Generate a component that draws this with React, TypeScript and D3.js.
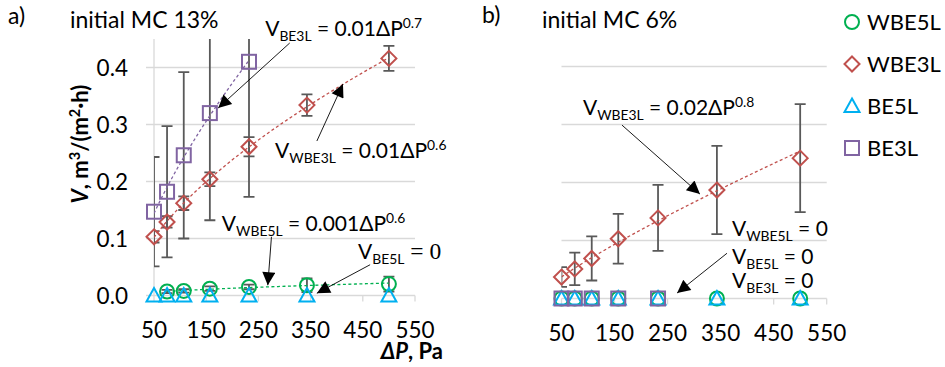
import React, { useEffect, useRef } from 'react';
import * as d3 from 'd3';

// pressure difference, Pa (same steps in both panels)
const pressure = [50, 75, 107, 157, 232, 343, 500];
const xTicks = [50, 150, 250, 350, 450, 550];
const yTicks = [0, 0.1, 0.2, 0.3, 0.4];

const seriesNames = ['WBE5L', 'WBE3L', 'BE5L', 'BE3L'];
const seriesColors = ['#00b050', '#c0504d', '#00b0f0', '#8064a2'];
const seriesShapes = ['circle', 'diamond', 'triangle', 'square'];

// a) initial MC 13%
const wbe5lA = [null, 0.007, 0.008, 0.012, 0.015, 0.018, 0.02];
const wbe5lErrA = [null, 0.003, 0.003, 0.004, 0.004, 0.012, 0.013];
const wbe3lA = [0.103, 0.129, 0.162, 0.204, 0.261, 0.334, 0.416];
const wbe3lErrA = [0.01, 0.01, 0.012, 0.012, 0.017, 0.019, 0.022];
const be5lA = [0, 0, 0, 0, 0, 0, 0];
const be3lA = [0.147, 0.182, 0.246, 0.32, 0.41, null, null];
const be3lErrA = [0.096, 0.115, 0.146, 0.188, 0.237, null, null];

// b) initial MC 6%
const wbe5lB = [0, 0, 0, 0, 0, 0, 0];
const wbe3lB = [0.037, 0.051, 0.069, 0.103, 0.139, 0.187, 0.242];
const wbe3lErrB = [0.017, 0.028, 0.038, 0.043, 0.057, 0.076, 0.093];
const be5lB = [0, 0, 0, 0, 0, 0, 0];
const be3lB = [0, 0, 0, 0, 0, null, null];

// callouts, in data units: text start, arrow start, arrow tip
const notesA = [
  { parts: [['V'], ['BE3L', 'sub'], [' = 0.01ΔP'], ['0.7', 'sup']], at: [263, 0.455], from: [310, 0.443], to: [173, 0.329] },
  { parts: [['V'], ['WBE3L', 'sub'], [' = 0.01ΔP'], ['0.6', 'sup']], at: [282, 0.241], from: [362, 0.271], to: [412, 0.371] },
  { parts: [['V'], ['WBE5L', 'sub'], [' = 0.001ΔP'], ['0.6', 'sup']], at: [180, 0.113], from: [275, 0.103], to: [268, 0.018] },
  { parts: [['V'], ['BE5L', 'sub'], [' = 0', 'serif']], at: [441, 0.064], from: [464, 0.054], to: [362, 0.004] },
];
const notesB = [
  { parts: [['V'], ['WBE3L', 'sub'], [' = 0.02ΔP'], ['0.8', 'sup']], at: [90.5, 0.316], from: [164, 0.299], to: [311, 0.18] },
  { parts: [['V'], ['WBE5L', 'sub'], [' = 0']], at: [371.5, 0.108] },
  { parts: [['V'], ['BE5L', 'sub'], [' = 0']], at: [371.5, 0.0595], from: [362, 0.078], to: [268, 0.0095] },
  { parts: [['V'], ['BE3L', 'sub'], [' = 0']], at: [371.5, 0.018] },
];

const FONT = 'Lato, "Open Sans", sans-serif';
const SERIF = '"Liberation Serif", "DejaVu Serif", serif';
const GRID = '#d9d9d9';

const panels = [
  {
    id: 'a', label: 'a)', title: 'initial MC 13%', xr: [154, 415], y0: 295.5, unit: 570, yLabels: true,
    labelPos: [8, 24], titlePos: [70, 28],
    series: [
      { values: wbe5lA, err: wbe5lErrA, trend: true },
      { values: wbe3lA, err: wbe3lErrA, trend: true },
      { values: be5lA },
      { values: be3lA, err: be3lErrA, trend: true },
    ],
    notes: notesA,
  },
  {
    id: 'b', label: 'b)', title: 'initial MC 6%', xr: [561.5, 826.7], y0: 298.5, unit: 580, yLabels: false,
    labelPos: [482, 23], titlePos: [542, 28],
    series: [
      { values: wbe5lB },
      { values: wbe3lB, err: wbe3lErrB, trend: true },
      { values: be5lB },
      { values: be3lB },
    ],
    notes: notesB,
  },
];

function powerFit(xs: number[], ys: (number | null)[]) {
  const pts = xs.map((x, i) => [x, ys[i]] as [number, number | null]).filter(p => p[1] != null && (p[1] as number) > 0) as [number, number][];
  const lx = pts.map(p => Math.log(p[0]));
  const ly = pts.map(p => Math.log(p[1]));
  const mx = d3.mean(lx) as number;
  const my = d3.mean(ly) as number;
  const b = d3.sum(lx, (v, i) => (v - mx) * (ly[i] - my)) / d3.sum(lx, v => (v - mx) ** 2);
  const a = Math.exp(my - b * mx);
  return { a, b, x0: pts[0][0], x1: pts[pts.length - 1][0] };
}

function drawMarker(g, shape: string, x: number, y: number, color: string) {
  const common = (s) => s.attr('fill', 'none').attr('stroke', color).attr('stroke-width', 2);
  if (shape === 'circle') common(g.append('circle').attr('cx', x).attr('cy', y).attr('r', 7));
  if (shape === 'square') common(g.append('rect').attr('x', x - 7).attr('y', y - 7).attr('width', 14).attr('height', 14));
  if (shape === 'diamond') common(g.append('path').attr('d', `M${x},${y - 7.5}L${x + 7.5},${y}L${x},${y + 7.5}L${x - 7.5},${y}Z`));
  if (shape === 'triangle') common(g.append('path').attr('d', `M${x},${y - 7.5}L${x + 7.5},${y + 6}L${x - 7.5},${y + 6}Z`));
}

function richText(t, parts, size: number) {
  let shift = 0;
  parts.forEach(([txt, kind]) => {
    const target = kind === 'sub' ? 5 : kind === 'sup' ? -8 : 0;
    const ts = t.append('tspan').attr('dy', target - shift).text(txt);
    shift = target;
    if (kind === 'sub' || kind === 'sup') ts.attr('font-size', size * 0.66);
    if (kind === 'serif') ts.attr('font-family', SERIF).attr('font-size', size * 1.12);
    if (kind === 'i') ts.attr('font-style', 'italic');
  });
}

const App = () => {
  const svgRef = useRef(null);

  useEffect(() => {
    const svg = d3.select(svgRef.current);
    svg.selectAll('*').remove();
    svg.attr('width', 945).attr('height', 367).style('font-family', FONT);

    svg.append('defs').append('marker')
      .attr('id', 'arrow')
      .attr('viewBox', '0 0 10 10')
      .attr('refX', 10).attr('refY', 5)
      .attr('markerWidth', 16).attr('markerHeight', 13)
      .attr('markerUnits', 'userSpaceOnUse')
      .attr('orient', 'auto')
      .append('path').attr('d', 'M0,0L10,5L0,10Z').attr('fill', '#000');

    panels.forEach(p => {
      const x = d3.scaleLinear().domain([50, 550]).range(p.xr);
      const y = d3.scaleLinear().domain([0, 0.45]).range([p.y0, p.y0 - 0.45 * p.unit]);
      const g = svg.append('g');

      svg.select('defs').append('clipPath').attr('id', `clip-${p.id}`)
        .append('rect').attr('x', p.xr[0]).attr('y', y(0.45)).attr('width', p.xr[1] - p.xr[0]).attr('height', p.y0 - y(0.45));

      // gridlines and axis
      const gx0 = p.yLabels ? p.xr[0] - 8 : p.xr[0];
      g.selectAll('.grid').data(yTicks).enter().append('line')
        .attr('x1', gx0).attr('x2', p.xr[1])
        .attr('y1', d => y(d)).attr('y2', d => y(d))
        .attr('stroke', GRID).attr('stroke-width', 1.3);
      g.selectAll('.xtick').data(xTicks).enter().append('line')
        .attr('x1', d => x(d)).attr('x2', d => x(d))
        .attr('y1', p.y0).attr('y2', p.y0 + 6)
        .attr('stroke', GRID).attr('stroke-width', 1.3);
      g.selectAll('.xlab').data(xTicks).enter().append('text')
        .attr('x', d => x(d)).attr('y', p.y0 + 42)
        .attr('text-anchor', 'middle').attr('font-size', 22.5).attr('fill', '#000')
        .text(d => d);

      if (p.yLabels) {
        g.append('line').attr('x1', p.xr[0]).attr('x2', p.xr[0])
          .attr('y1', y(0.45)).attr('y2', p.y0).attr('stroke', GRID).attr('stroke-width', 1.3);
        g.selectAll('.ylab').data(yTicks).enter().append('text')
          .attr('x', 128).attr('y', d => y(d) + 8.5)
          .attr('text-anchor', 'end').attr('font-size', 22.5)
          .text(d => d3.format('.1f')(d));
        const yl = g.append('text')
          .attr('transform', 'translate(88,144) rotate(-90)')
          .attr('text-anchor', 'middle').attr('font-size', 22).attr('font-weight', 'bold');
        richText(yl, [['V', 'i'], [', m'], ['3', 'sup'], ['/(m'], ['2', 'sup'], ['·h)']], 22);
        const xl = g.append('text')
          .attr('x', 443).attr('y', 359)
          .attr('text-anchor', 'end').attr('font-size', 22).attr('font-weight', 'bold');
        richText(xl, [['ΔP', 'i'], [', Pa']], 22);
      }

      g.append('text').attr('x', p.labelPos[0]).attr('y', p.labelPos[1]).attr('font-size', 23).text(p.label);
      g.append('text').attr('x', p.titlePos[0]).attr('y', p.titlePos[1]).attr('font-size', 23).text(p.title);

      // error bars
      const eb = g.append('g').attr('clip-path', `url(#clip-${p.id})`);
      p.series.forEach(s => {
        if (!s.err) return;
        pressure.forEach((px, i) => {
          const v = s.values[i];
          const e = s.err[i];
          if (v == null || e == null) return;
          const cx = x(px);
          const hi = y(v + e);
          const lo = y(v - e);
          eb.append('line').attr('x1', cx).attr('x2', cx).attr('y1', hi).attr('y2', lo)
            .attr('stroke', '#595959').attr('stroke-width', 1.8);
          [hi, lo].forEach(yy => eb.append('line')
            .attr('x1', cx - 5.5).attr('x2', cx + 5.5).attr('y1', yy).attr('y2', yy)
            .attr('stroke', '#595959').attr('stroke-width', 1.8));
        });
      });

      // power trendlines
      p.series.forEach((s, si) => {
        if (!s.trend) return;
        const f = powerFit(pressure, s.values);
        const pts = d3.range(0, 61).map(k => {
          const xv = f.x0 + (f.x1 - f.x0) * k / 60;
          return [x(xv), y(f.a * Math.pow(xv, f.b))] as [number, number];
        });
        eb.append('path').attr('d', d3.line()(pts))
          .attr('fill', 'none').attr('stroke', seriesColors[si])
          .attr('stroke-width', 1.3).attr('stroke-dasharray', '3,2.5');
      });

      // markers
      p.series.forEach((s, si) => {
        pressure.forEach((px, i) => {
          const v = s.values[i];
          if (v == null) return;
          drawMarker(g, seriesShapes[si], x(px), y(v), seriesColors[si]);
        });
      });

      // callouts
      p.notes.forEach(n => {
        if (n.from) {
          g.append('line')
            .attr('x1', x(n.from[0])).attr('y1', y(n.from[1]))
            .attr('x2', x(n.to[0])).attr('y2', y(n.to[1]))
            .attr('stroke', '#000').attr('stroke-width', 0.9)
            .attr('marker-end', 'url(#arrow)');
        }
        const t = g.append('text').attr('x', x(n.at[0])).attr('y', y(n.at[1])).attr('font-size', 21);
        richText(t, n.parts, 21);
      });
    });

    // legend
    const lg = svg.append('g');
    seriesNames.forEach((name, i) => {
      const ly = 22 + i * 42;
      drawMarker(lg, seriesShapes[i], 852, ly, seriesColors[i]);
      lg.append('text').attr('x', 867).attr('y', ly + 8).attr('font-size', 22).text(name);
    });
  }, []);

  return (
    <svg ref={svgRef} style={{ position: 'absolute', left: 0, top: 0 }}></svg>
  );
};

export default App;
